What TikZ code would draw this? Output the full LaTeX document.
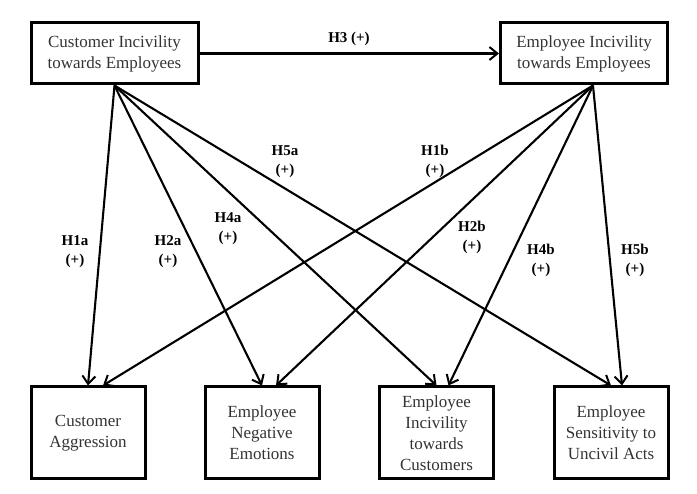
\documentclass[tikz,border=0pt]{standalone}
\usepackage{fontspec}
\setmainfont{Liberation Serif}
\usetikzlibrary{arrows.meta}

\begin{document}
\begin{tikzpicture}[x=1pt,y=-1pt,
	topbox/.style={draw, line width=3pt, minimum width=167pt, minimum height=61pt, inner sep=0pt, align=center, text=black!80, font=\fontsize{17}{21}\selectfont},
	botbox/.style={draw, line width=3pt, minimum width=114pt, minimum height=92pt, inner sep=0pt, align=center, text=black!80, font=\fontsize{17}{21}\selectfont},
	lab/.style={align=center, inner sep=1pt, font=\bfseries\fontsize{15}{19}\selectfont},
	link/.style={-{Straight Barb[length=8pt,width=13pt,line width=2pt]}, line width=2.1pt}]
			\useasboundingbox (0,0) rectangle (697,494);
			
			\node[topbox] (cie) at (114.5,53.5) {Customer Incivility\\towards Employees};
			\node[topbox] (eie) at (584,53.5) {Employee Incivility\\towards Employees};
			
			\node[botbox] (ca) at (88,433) {Customer\\Aggression};
			\node[botbox] (ene) at (262,433) {Employee\\Negative\\Emotions};
			\node[botbox] (eic) at (436.5,433) {Employee\\Incivility\\towards\\Customers};
			\node[botbox] (esu) at (611,433) {Employee\\Sensitivity to\\Uncivil Acts};
			
			\node[lab] (h3) at (349,39) {H3 (+)};
			\node[lab] (h1a) at (75,252) {H1a\\(+)};
			\node[lab] (h2a) at (168,252) {H2a\\(+)};
			\node[lab] (h4a) at (228,229) {H4a\\(+)};
			\node[lab] (h5a) at (285,162) {H5a\\(+)};
			\node[lab] (h1b) at (435,161) {H1b\\(+)};
			\node[lab] (h2b) at (472,237) {H2b\\(+)};
			\node[lab] (h4b) at (541,260) {H4b\\(+)};
			\node[lab] (h5b) at (635,260) {H5b\\(+)};
			
			\path [link] (cie) edge (eie);
			\path [link] (cie.south) edge (ca.north) edge (ene.north) edge (eic.north) edge (esu.north);
			\path [link] ([xshift=9pt]eie.south) edge ([xshift=15pt]ca.north) edge ([xshift=14pt]ene.north)
				edge ([xshift=12pt]eic.north) edge ([xshift=11pt]esu.north);
\end{tikzpicture}
\end{document}
